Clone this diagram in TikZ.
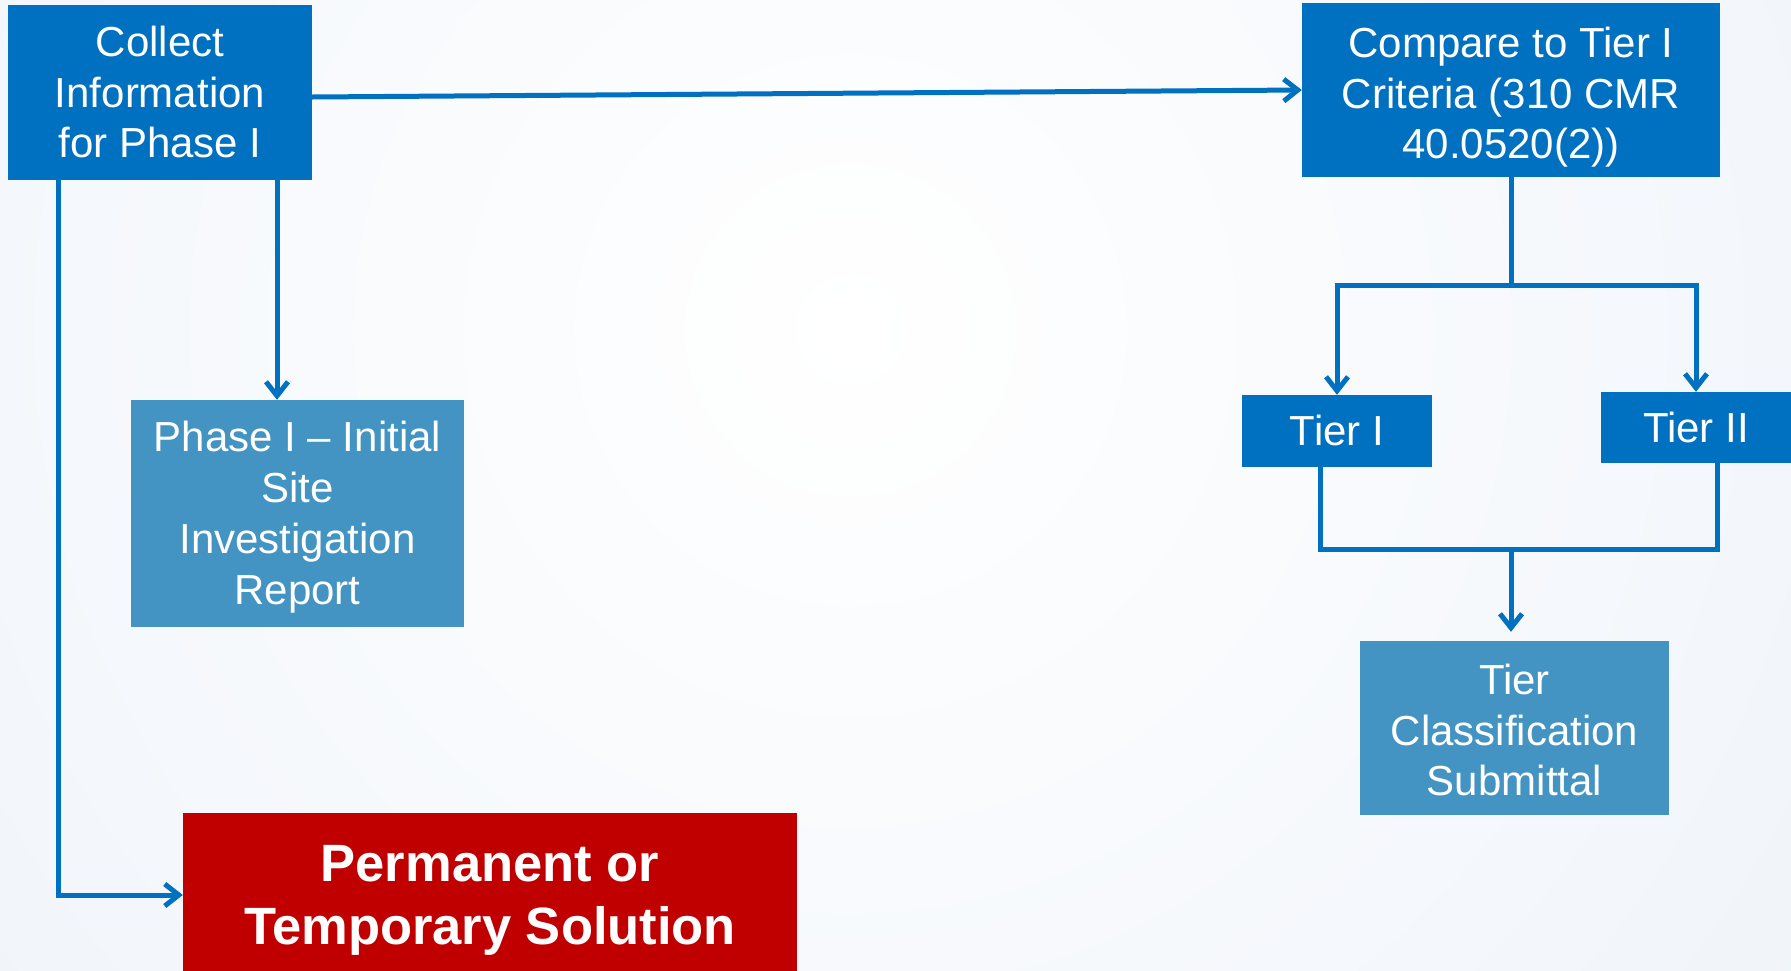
\documentclass[tikz,border=0pt]{standalone}
\usepackage{fontspec}
\setmainfont{Liberation Sans}
\usetikzlibrary{arrows.meta,calc}
\definecolor{boxblue}{HTML}{0070C0}
\definecolor{paleblue}{HTML}{4393C3}
\definecolor{solred}{HTML}{C00000}
\definecolor{bgblue}{HTML}{E4ECF6}
% line box with the font's full ascent and descent, so every line weighs the same
\newcommand{\lb}{\rule[-0.212em]{0pt}{1.117em}}
% same, with extra room above (pushes a text block down a little)
\newcommand{\lbtop}[1]{\rule[-0.212em]{0pt}{\dimexpr1.117em+#1\relax}}

\begin{document}
\begin{tikzpicture}[x=1pt, y=-1pt,
  base/.style={rectangle, inner sep=0pt, align=center, text=white,
    font=\fontsize{42}{50.8}\selectfont},
  darkbox/.style={base, fill=boxblue},
  lightbox/.style={base, fill=paleblue},
  redbox/.style={base, fill=solred, font=\fontsize{52.5}{63}\selectfont\bfseries},
  conn/.style={draw=boxblue, line width=5pt},
  arr/.style={conn, -{Straight Barb[length=14pt, width=22pt]}},
]
\useasboundingbox (0,0) rectangle (1791,970);

% soft background
\begin{scope}
  \clip (0,0) rectangle (1791,970);
  \shade[inner color=white, outer color=bgblue] (850,330) circle (2100);
\end{scope}

% boxes
\node[darkbox, minimum width=304pt, minimum height=175pt] (collect) at (160,92.5)
  {\lb Collect\\\lb Information\\\lb for Phase I};
\node[darkbox, minimum width=418pt, minimum height=174pt] (compare) at (1511,90)
  {\lbtop{7pt}Compare to Tier I\\\lb Criteria (310 CMR\\\lb 40.0520(2))};
\node[lightbox, minimum width=333pt, minimum height=227pt] (phase) at (297.5,513.5)
  {\lb Phase I – Initial\\\lb Site\\\lb Investigation\\\lb Report};
\node[darkbox, minimum width=190pt, minimum height=72pt] (tierone) at (1337,431) {\lb Tier I};
\node[darkbox, minimum width=190pt, minimum height=71pt] (tiertwo) at (1696,427.5) {\lb Tier II};
\node[lightbox, minimum width=309pt, minimum height=174pt] (tiercls) at (1514.5,728)
  {\lbtop{5pt}Tier\\\lb Classification\\\lb Submittal};
\node[redbox, minimum width=614pt, minimum height=164pt] (perm) at (490,895)
  {\lb Permanent or\\\lb Temporary Solution};

% connectors
\draw[arr] ([yshift=-4.5pt]collect.east) -- (compare.west);

\coordinate (phasein) at ([xshift=-20.5pt]phase.north);
\draw[arr] (phasein |- collect.south) -- (phasein);

\draw[arr] ([xshift=-102pt]collect.south) |- (perm.west);

\coordinate (split) at ([yshift=-108pt]compare.south);
\draw[arr] (compare.south) -- (split) -| (tierone.north);
\draw[arr] (split) -| (tiertwo.north);

\coordinate (merge) at (1511,549);
\draw[conn] ([xshift=-17pt]tierone.south) |- (merge) -| ([xshift=21pt]tiertwo.south);
\draw[arr, shorten >=9pt] (merge) -- (merge |- tiercls.north);
\end{tikzpicture}
\end{document}
